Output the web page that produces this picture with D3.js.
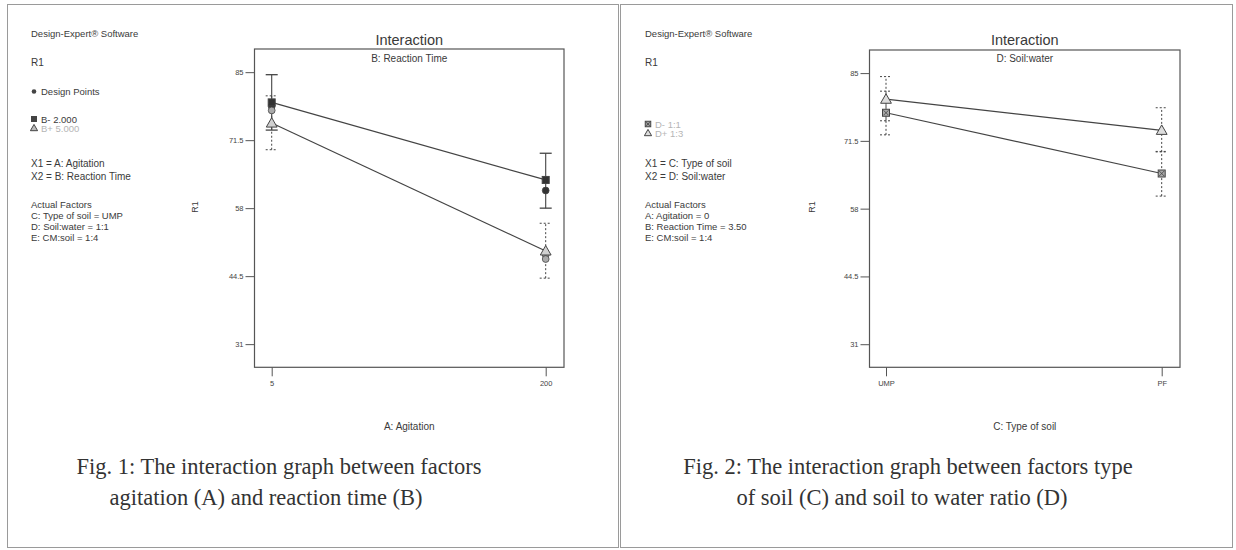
<!DOCTYPE html>
<html><head><meta charset="utf-8">
<script src="https://cdn.jsdelivr.net/npm/d3@7"></script>
<style>
body{margin:0;background:#fff;}
svg{display:block;font-family:"Liberation Sans",Arial,sans-serif;}
</style></head>
<body><svg id="c" width="1236" height="550"></svg>
<script>
// ---------- data ----------
const yTicks = [31, 44.5, 58, 71.5, 85];
// Figure 1: A: Agitation x B: Reaction Time
const agitation = [5, 200];
const bMinusMean = [79.0, 63.6];
const bMinusLow  = [73.5, 58.0];
const bMinusHigh = [84.5, 68.9];
const bPlusMean  = [74.9, 49.5];
const bPlusLow   = [69.6, 44.1];
const bPlusHigh  = [80.3, 55.0];
const designX    = [5, 5, 200, 200, 200];
const designY    = [78.2, 77.4, 61.5, 48.7, 47.9];
const designFill = [true, false, true, false, false];
// Figure 2: C: Type of soil x D: Soil:water
const soilTypes   = ["UMP", "PF"];
const dMinusMean  = [77.1, 65.0];
const dMinusLow   = [72.7, 60.5];
const dMinusHigh  = [81.4, 69.4];
const dPlusMean   = [79.8, 73.6];
const dPlusLow    = [75.5, 69.3];
const dPlusHigh   = [84.3, 78.1];

const legend1 = ["X1 = A: Agitation", "X2 = B: Reaction Time"];
const actual1 = ["C: Type of soil = UMP", "D: Soil:water = 1:1", "E: CM:soil = 1:4"];
const legend2 = ["X1 = C: Type of soil", "X2 = D: Soil:water"];
const actual2 = ["A: Agitation = 0", "B: Reaction Time = 3.50", "E: CM:soil = 1:4"];

const svg = d3.select("#c");
const ink = "#3a3a3a";

// panel frames
svg.append("rect").attr("x",7.5).attr("y",4.5).attr("width",611).attr("height",543)
  .attr("fill","none").attr("stroke","#9a9a9a");
svg.append("rect").attr("x",620.5).attr("y",4.5).attr("width",612).attr("height",543)
  .attr("fill","none").attr("stroke","#9a9a9a");

function txt(g, x, y, s, size, opts={}) {
  return g.append("text").attr("x",x).attr("y",y).text(s)
    .attr("font-size",size).attr("fill",opts.fill||ink)
    .attr("text-anchor",opts.anchor||"start")
    .attr("font-family",opts.family||null);
}

function tri(g, cx, cy, s, fill) {
  g.append("path").attr("d",`M${cx},${cy-s*0.6}L${cx+s*0.6},${cy+s*0.45}L${cx-s*0.6},${cy+s*0.45}Z`)
    .attr("fill",fill).attr("stroke","#444").attr("stroke-width",1);
}
function sq(g, cx, cy, s, fill, cross) {
  g.append("rect").attr("x",cx-s/2).attr("y",cy-s/2).attr("width",s).attr("height",s)
    .attr("fill",fill).attr("stroke","#444").attr("stroke-width",1);
  if (cross) {
    g.append("path").attr("d",`M${cx-s/2+1},${cy-s/2+1}L${cx+s/2-1},${cy+s/2-1}M${cx+s/2-1},${cy-s/2+1}L${cx-s/2+1},${cy+s/2-1}`)
      .attr("stroke","#444").attr("stroke-width",0.8);
  }
}

function panel(cfg) {
  const g = svg.append("g");
  const L = cfg.left, R = cfg.right, T = cfg.top, B = cfg.bottom;
  const y = d3.scaleLinear().domain([26.4, 89.6]).range([B, T]);
  const x = cfg.x;

  // side legend text
  const lx = cfg.lx;
  txt(g, lx, 37, "Design-Expert® Software", 9.5);
  txt(g, lx, 66, "R1", 10);
  cfg.legendMarks(g, lx);
  cfg.lines.forEach((s,i)=>txt(g, lx, 167 + i*13.4, s, 10));
  txt(g, lx, 208, "Actual Factors", 9.5);
  cfg.actual.forEach((s,i)=>txt(g, lx, 219 + i*10.8, s, 9.5));

  // frame
  g.append("rect").attr("x",L).attr("y",T).attr("width",R-L).attr("height",B-T)
    .attr("fill","none").attr("stroke","#555").attr("stroke-width",1.2);

  // y axis
  const ya = g.append("g").attr("transform",`translate(${L},0)`)
    .call(d3.axisLeft(y).tickValues(yTicks).tickSize(9).tickPadding(2).tickFormat(d3.format("")));
  ya.select(".domain").remove();
  ya.selectAll("line").attr("stroke","#555");
  ya.selectAll("text").attr("font-size",7.5).attr("fill","#444").attr("font-family","Liberation Sans");

  // x axis
  const xa = g.append("g").attr("transform",`translate(0,${B})`)
    .call(d3.axisBottom(x).tickValues(cfg.xTicks).tickSize(9).tickPadding(4));
  xa.select(".domain").remove();
  xa.selectAll("line").attr("stroke","#555");
  xa.selectAll("text").attr("font-size",7.5).attr("fill","#444").attr("font-family","Liberation Sans");

  const cx = (L+R)/2;
  txt(g, cx, 45, "Interaction", 14.5, {anchor:"middle"});
  txt(g, cx, 62, cfg.subtitle, 10, {anchor:"middle"});
  txt(g, cx, 430, cfg.xTitle, 10, {anchor:"middle"});
  g.append("text").attr("transform",`translate(${cfg.r1x},207) rotate(-90)`)
    .attr("text-anchor","middle").attr("font-size",9).attr("fill",ink).text("R1");

  // series
  cfg.series.forEach(s=>{
    // error bars
    s.x.forEach((xv,i)=>{
      const px = x(xv);
      const dash = s.dashed ? "2,2" : null;
      g.append("line").attr("x1",px).attr("x2",px).attr("y1",y(s.lo[i])).attr("y2",y(s.hi[i]))
        .attr("stroke","#444").attr("stroke-width",s.dashed?1:1.1).attr("stroke-dasharray",dash);
      [s.lo[i], s.hi[i]].forEach(v=>{
        g.append("line").attr("x1",px-s.cap).attr("x2",px+s.cap).attr("y1",y(v)).attr("y2",y(v))
          .attr("stroke","#444").attr("stroke-width",s.dashed?1:1.3).attr("stroke-dasharray",dash);
      });
    });
    const line = d3.line().x((d,i)=>x(s.x[i])).y(d=>y(d));
    g.append("path").attr("d",line(s.mean)).attr("fill","none").attr("stroke","#444").attr("stroke-width",1.2);
  });
  if (cfg.design) cfg.design(g, x, y);
  cfg.series.forEach(s=>{
    s.mean.forEach((v,i)=>s.mark(g, x(s.x[i]), y(v)));
  });
}

// ---------- Figure 1 ----------
panel({
  left:254.5, right:564, top:49, bottom:367.3,
  x: d3.scaleLinear().domain([5,200]).range([271.7,545.7]),
  xTicks: agitation, lx: 31, r1x: 198,
  subtitle: "B: Reaction Time", xTitle: "A: Agitation",
  lines: legend1, actual: actual1,
  legendMarks: (g, lx)=>{
    g.append("circle").attr("cx",lx+3).attr("cy",91.5).attr("r",2.3).attr("fill","#444");
    txt(g, lx+10, 95, "Design Points", 9.5);
    sq(g, lx+3, 119, 5, "#444", false);
    txt(g, lx+10, 122.5, "B- 2.000", 9.5);
    tri(g, lx+3, 128, 6, "#bbb");
    txt(g, lx+10, 131.5, "B+ 5.000", 9.5, {fill:"#b5b5b5"});
  },
  series: [
    {x:agitation, mean:bMinusMean, lo:bMinusLow, hi:bMinusHigh, dashed:false, cap:6,
     mark:(g,px,py)=>sq(g,px,py,7,"#333",false)},
    {x:agitation, mean:bPlusMean, lo:bPlusLow, hi:bPlusHigh, dashed:true, cap:6,
     mark:(g,px,py)=>tri(g,px,py,9,"#d0d0d0")}
  ],
  design: (g, x, y)=>{
    designX.forEach((xv,i)=>{
      g.append("circle").attr("cx",x(xv)).attr("cy",y(designY[i])).attr("r",3.4)
        .attr("fill",designFill[i]?"#333":"#aaa").attr("stroke","#444").attr("stroke-width",0.8);
    });
  }
});

// ---------- Figure 2 ----------
panel({
  left:869.5, right:1180, top:50, bottom:367.3,
  x: d3.scalePoint().domain(soilTypes).range([886,1161.7]),
  xTicks: soilTypes, lx: 645, r1x: 815,
  subtitle: "D: Soil:water", xTitle: "C: Type of soil",
  lines: legend2, actual: actual2,
  legendMarks: (g, lx)=>{
    sq(g, lx+3, 124, 5.5, "#999", true);
    txt(g, lx+10, 127.5, "D- 1:1", 9.5, {fill:"#b5b5b5"});
    tri(g, lx+3, 133, 6, "#ddd");
    txt(g, lx+10, 136.5, "D+ 1:3", 9.5, {fill:"#b5b5b5"});
  },
  series: [
    {x:soilTypes, mean:dMinusMean, lo:dMinusLow, hi:dMinusHigh, dashed:true, cap:6,
     mark:(g,px,py)=>sq(g,px,py,7,"#aaa",true)},
    {x:soilTypes, mean:dPlusMean, lo:dPlusLow, hi:dPlusHigh, dashed:true, cap:6,
     mark:(g,px,py)=>tri(g,px,py,9,"#ddd")}
  ]
});

// ---------- captions ----------
const capFont = "'Liberation Serif','Times New Roman',serif";
function cap(x, y, s) {
  txt(svg, x, y, s, 22.5, {family:capFont, fill:"#333", anchor:"middle"});
}
cap(279, 474, "Fig. 1: The interaction graph between factors");
cap(266, 505, "agitation (A) and reaction time (B)");
cap(908, 474, "Fig. 2: The interaction graph between factors type");
cap(902, 505, "of soil (C) and soil to water ratio (D)");
</script>
</body></html>
